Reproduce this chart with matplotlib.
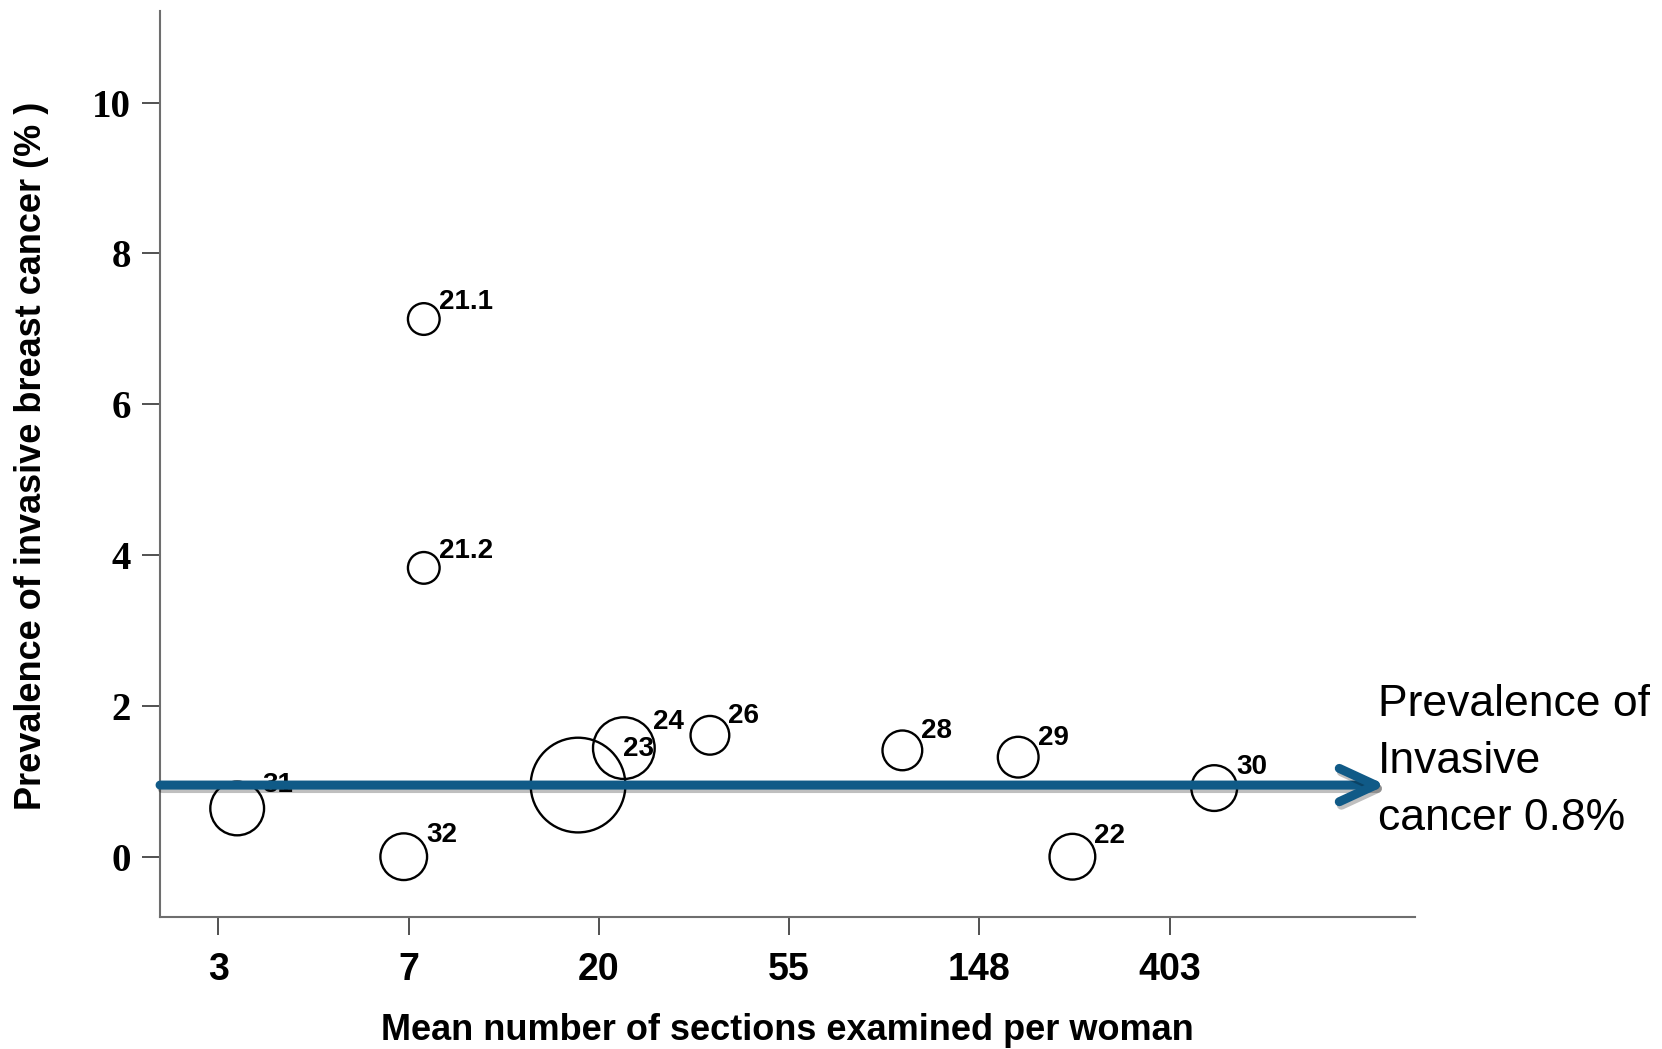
import numpy as np
import matplotlib
matplotlib.use('Agg')
import matplotlib.pyplot as plt
import matplotlib.patheffects as pe
from matplotlib import font_manager
from matplotlib.ticker import FixedLocator, NullLocator

# study data
study_ids = ['31', '32', '21.1', '21.2', '23', '24', '26', '28', '29', '22', '30']
sections = [3.0, 7.2, 8.0, 8.0, 18.0, 22.9, 36.0, 99, 182, 242, 510]
prevalence = [0.64, 0.0, 7.13, 3.83, 0.95, 1.44, 1.61, 1.41, 1.32, 0.0, 0.91]
weights = [32.2, 24.3, 11.2, 11.2, 100, 42.4, 16.7, 17.6, 18.5, 23.3, 23.3]

x_ticks = np.exp(np.arange(1, 7))
x_tick_labels = ['3', '7', '20', '55', '148', '403']
y_ticks = [0, 2, 4, 6, 8, 10]

pooled_line = 0.95
pooled_text = 'Prevalence of\nInvasive\ncancer 0.8%'

names = {f.name for f in font_manager.fontManager.ttflist}
narrow = 'Liberation Sans Narrow' if 'Liberation Sans Narrow' in names else 'Liberation Sans'

fig = plt.figure(figsize=(16.62, 10.49), dpi=100)
ax = fig.add_axes([0.0963, 0.1258, 0.7551, 0.8641])

sizes = np.array(weights) * 46.5
ax.scatter(sections, prevalence, s=sizes, facecolors='none',
           edgecolors='black', linewidths=1.7, zorder=3)

for sid, xv, yv, s in zip(study_ids, sections, prevalence, sizes):
    r = np.sqrt(s) / 2
    ax.annotate(sid, (xv, yv), xytext=(r * 0.95, r * 0.62),
                textcoords='offset points', ha='left', va='baseline',
                fontsize=20, fontweight='bold', family=narrow, zorder=4)

ax.set_xscale('log', base=np.e)
ax.set_xlim(2.0, np.exp(7.29))
ax.set_ylim(-0.8, 11.22)
ax.xaxis.set_major_locator(FixedLocator(x_ticks))
ax.xaxis.set_minor_locator(NullLocator())
ax.set_xticklabels(x_tick_labels, fontsize=27, fontweight='bold', family=narrow)
ax.set_yticks(y_ticks)
ax.set_yticklabels([str(v) for v in y_ticks], fontsize=28,
                   fontweight='bold', family='Liberation Serif')

for side in ['top', 'right']:
    ax.spines[side].set_visible(False)
for side in ['left', 'bottom']:
    ax.spines[side].set_color('#6e6e6e')
    ax.spines[side].set_linewidth(1.5)
ax.tick_params(axis='both', direction='out', length=13, width=1.2, color='#333333')
ax.tick_params(axis='x', pad=12)
ax.tick_params(axis='y', pad=8)

# pooled prevalence arrow
arrow = ax.annotate('', xy=(0.977, pooled_line), xytext=(0.0, pooled_line),
                    xycoords=('axes fraction', 'data'),
                    textcoords=('axes fraction', 'data'),
                    arrowprops=dict(arrowstyle='->,head_length=26,head_width=12',
                                    mutation_scale=1, lw=6.5, color='#105a87',
                                    shrinkA=0, shrinkB=0,
                                    capstyle='round', joinstyle='round'),
                    annotation_clip=False, zorder=5)
arrow.arrow_patch.set_path_effects([
    pe.SimpleLineShadow(offset=(1.5, -2.5), shadow_color='black', alpha=0.25),
    pe.Normal()])

fig.text(1378 / 1662, 1 - 830 / 1049, pooled_text, ha='left', va='baseline',
         fontsize=32, family='Liberation Sans', linespacing=1.5)

fig.text(32 / 1662, 1 - 456 / 1049, 'Prevalence of invasive breast cancer (% )',
         rotation=90, ha='center', va='center', fontsize=26,
         fontweight='bold', family=narrow)
fig.text(787 / 1662, 0.018, 'Mean number of sections examined per woman',
         ha='center', va='center', fontsize=26, fontweight='bold', family=narrow)

fig.savefig('out.png', dpi=100)
